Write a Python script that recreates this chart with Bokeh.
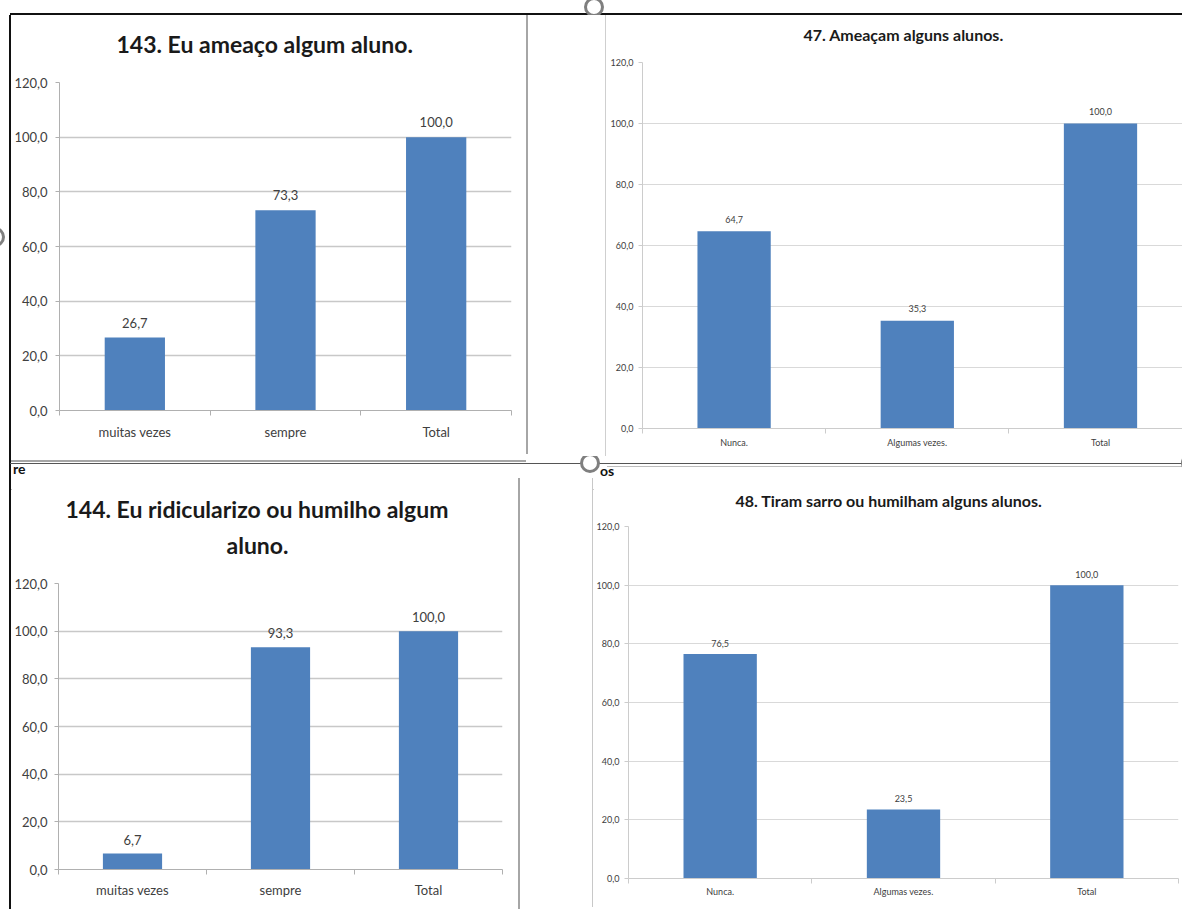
from bokeh.plotting import figure
from bokeh.models import ColumnDataSource, FixedTicker, Title, Div, Range1d
from bokeh.layouts import row, column
from bokeh.embed import file_html
from bokeh.resources import INLINE
from bokeh.core.properties import value

# ---- data -------------------------------------------------------------
q143_title = ["143. Eu ameaço algum aluno."]
q143_cats = ["muitas vezes", "sempre", "Total"]
q143_vals = [26.7, 73.3, 100.0]

q47_title = ["47. Ameaçam alguns alunos."]
q47_cats = ["Nunca.", "Algumas vezes.", "Total"]
q47_vals = [64.7, 35.3, 100.0]

q144_title = ["144. Eu ridicularizo ou humilho algum", "aluno."]
q144_cats = ["muitas vezes", "sempre", "Total"]
q144_vals = [6.7, 93.3, 100.0]

q48_title = ["48. Tiram sarro ou humilham alguns alunos."]
q48_cats = ["Nunca.", "Algumas vezes.", "Total"]
q48_vals = [76.5, 23.5, 100.0]

y_ticks = [0, 20, 40, 60, 80, 100, 120]

FONT = "Lato"
BAR = "#4F81BD"


def fmt(v):
    return f"{v:.1f}".replace(".", ",")


def bar_panel(title_lines, cats, vals, *, width, height, border, x_end,
              title_size, title_offsets, title_gap, title_standoffs, tick_size,
              y_standoff, x_standoff, label_offset, grid_color, grid_width,
              axis_color):
    left, right, top, bottom = border
    p = figure(width=width, height=height,
               x_range=Range1d(0, x_end), y_range=Range1d(0, 120),
               output_backend="svg", toolbar_location=None, title_location=None,
               min_border_left=left, min_border_right=right,
               min_border_top=top, min_border_bottom=bottom)
    p.outline_line_color = None
    p.background_fill_color = "white"
    p.border_fill_color = "white"

    # blank band between the plot area and the title block
    p.add_layout(Title(text=" ", text_font_size="1px", standoff=title_gap), "above")
    # title lines, the last one sits closest to the plot area
    for text, offset, standoff in zip(reversed(title_lines),
                                      reversed(title_offsets), title_standoffs):
        p.add_layout(Title(text=text, align="left", offset=offset,
                           standoff=standoff, text_font=FONT,
                           text_font_size=f"{title_size}px",
                           text_font_style="bold", text_color="#1a1a1a"),
                     "above")

    xs = [i + 0.5 for i in range(len(cats))]
    src = ColumnDataSource(dict(x=xs, top=vals, label=[fmt(v) for v in vals]))
    p.vbar(x="x", top="top", width=0.4, source=src,
           fill_color=BAR, line_color=None)
    p.text(x="x", y="top", text="label", source=src,
           text_align="center", text_baseline="middle", y_offset=label_offset,
           text_font=value(FONT), text_font_size=f"{tick_size}px",
           text_color="#404040")

    # category axis: labels in the middle, small ticks on the boundaries
    xa = p.xaxis[0]
    xa.ticker = FixedTicker(ticks=xs, minor_ticks=list(range(len(cats) + 1)))
    xa.major_label_overrides = {x: c for x, c in zip(xs, cats)}
    xa.axis_line_color = axis_color
    xa.major_tick_out = 0
    xa.major_tick_in = 0
    xa.minor_tick_out = 5
    xa.minor_tick_in = 0
    xa.minor_tick_line_color = axis_color
    xa.major_label_standoff = x_standoff
    xa.major_label_text_font = FONT
    xa.major_label_text_font_size = f"{tick_size}px"
    xa.major_label_text_color = "#404040"

    ya = p.yaxis[0]
    ya.ticker = FixedTicker(ticks=y_ticks, minor_ticks=[])
    ya.major_label_overrides = {t: fmt(t) for t in y_ticks}
    ya.axis_line_color = axis_color
    ya.major_tick_out = 4
    ya.major_tick_in = 0
    ya.major_tick_line_color = axis_color
    ya.minor_tick_out = 0
    ya.minor_tick_in = 0
    ya.major_label_standoff = y_standoff
    ya.major_label_text_font = FONT
    ya.major_label_text_font_size = f"{tick_size}px"
    ya.major_label_text_color = "#404040"

    p.xgrid.visible = False
    p.ygrid.grid_line_color = grid_color
    p.ygrid.grid_line_width = grid_width
    return p


def block(w, h, html=""):
    return Div(width=w, height=h, margin=0,
               text=f'<div style="position:relative;width:{w}px;height:{h}px;'
                    f'overflow:hidden;">{html}</div>')


def hline(x, y, w, h, color):
    return (f'<div style="position:absolute;left:{x}px;top:{y}px;width:{w}px;'
            f'height:{h}px;background:{color};"></div>')


def ring(cx, cy, r, color="#7f7f7f"):
    return (f'<div style="position:absolute;box-sizing:border-box;'
            f'left:{cx - r}px;top:{cy - r}px;width:{2 * r}px;height:{2 * r}px;'
            f'border:3.5px solid {color};border-radius:50%;background:white;"></div>')


def word(x, y, text):
    return (f'<div style="position:absolute;left:{x}px;top:{y}px;'
            f'font:bold 14px {FONT};color:#111;line-height:14px;">{text}</div>')


# ---- the four charts ---------------------------------------------------
p143 = bar_panel(q143_title, q143_cats, q143_vals, width=515, height=437,
                 border=(46, 15, 67, 42), x_end=3, title_size=23,
                 title_offsets=[57], title_gap=21.5, title_standoffs=[0],
                 tick_size=13, y_standoff=8, x_standoff=8, label_offset=-15,
                 grid_color="#c8c8c8", grid_width=1.5, axis_color="#b0b0b0")

p47 = bar_panel(q47_title, q47_cats, q47_vals, width=575, height=440,
                border=(35, 0, 47, 27), x_end=540 / 183.2, title_size=16,
                title_offsets=[161], title_gap=16, title_standoffs=[0],
                tick_size=9, y_standoff=5, x_standoff=3, label_offset=-12,
                grid_color="#d9d9d9", grid_width=1.2, axis_color="#cccccc")

p144 = bar_panel(q144_title, q144_cats, q144_vals, width=507, height=430,
                 border=(38, 16, 104, 40), x_end=3, title_size=23,
                 title_offsets=[7, 168], title_gap=21.5, title_standoffs=[0, 11],
                 tick_size=13, y_standoff=7, x_standoff=7, label_offset=-14,
                 grid_color="#c8c8c8", grid_width=1.5, axis_color="#b0b0b0")

p48 = bar_panel(q48_title, q48_cats, q48_vals, width=589, height=427,
                border=(35, 4, 47, 28), x_end=3, title_size=16,
                title_offsets=[107], title_gap=13.5, title_standoffs=[0],
                tick_size=9, y_standoff=5, x_standoff=2, label_offset=-11,
                grid_color="#d9d9d9", grid_width=1.2, axis_color="#cccccc")

# ---- page frame around the charts ----------------------------------------
top_strip = block(1182, 15, hline(10, 13, 1172, 2, "#111") + ring(594, 7, 10))

left1 = block(11, 441, hline(9, 0, 2, 441, "#111") + ring(-5, 222, 10))
gap1 = block(81, 441, hline(0, 0, 2, 439, "#a6a6a6") + hline(79, 0, 1, 441, "#cfcfcf"))
row1 = row(left1,
           column(p143, block(515, 4, hline(0, 0, 515, 2, "#a6a6a6")), spacing=0),
           gap1,
           column(p47, block(575, 1, hline(0, 0, 575, 1, "#bdbdbd")), spacing=0),
           spacing=0)

mid_strip = block(1182, 22,
                  hline(9, 0, 2, 22, "#111")
                  + hline(10, 6.5, 1172, 1.5, "#555")
                  + word(13, 6, "re") + word(600, 8, "os")
                  + ring(590, 7, 10) + ring(1191, 7, 10))

left2 = block(11, 431, hline(9, 0, 2, 431, "#111"))
gap2 = block(75, 431, hline(0, 0, 2, 431, "#a6a6a6") + hline(74, 0, 1, 429, "#c8c8c8"))
row2 = row(left2,
           column(block(507, 1, hline(0, 0, 507, 1, "#a6a6a6")), p144, spacing=0),
           gap2,
           column(block(589, 1, hline(0, 0, 589, 1, "#bdbdbd")), p48,
                  block(589, 3, hline(0, 0, 589, 1, "#bdbdbd")), spacing=0),
           spacing=0)

page = column(top_strip, row1, mid_strip, row2, spacing=0)

open("out.html", "w").write(file_html(page, INLINE))
